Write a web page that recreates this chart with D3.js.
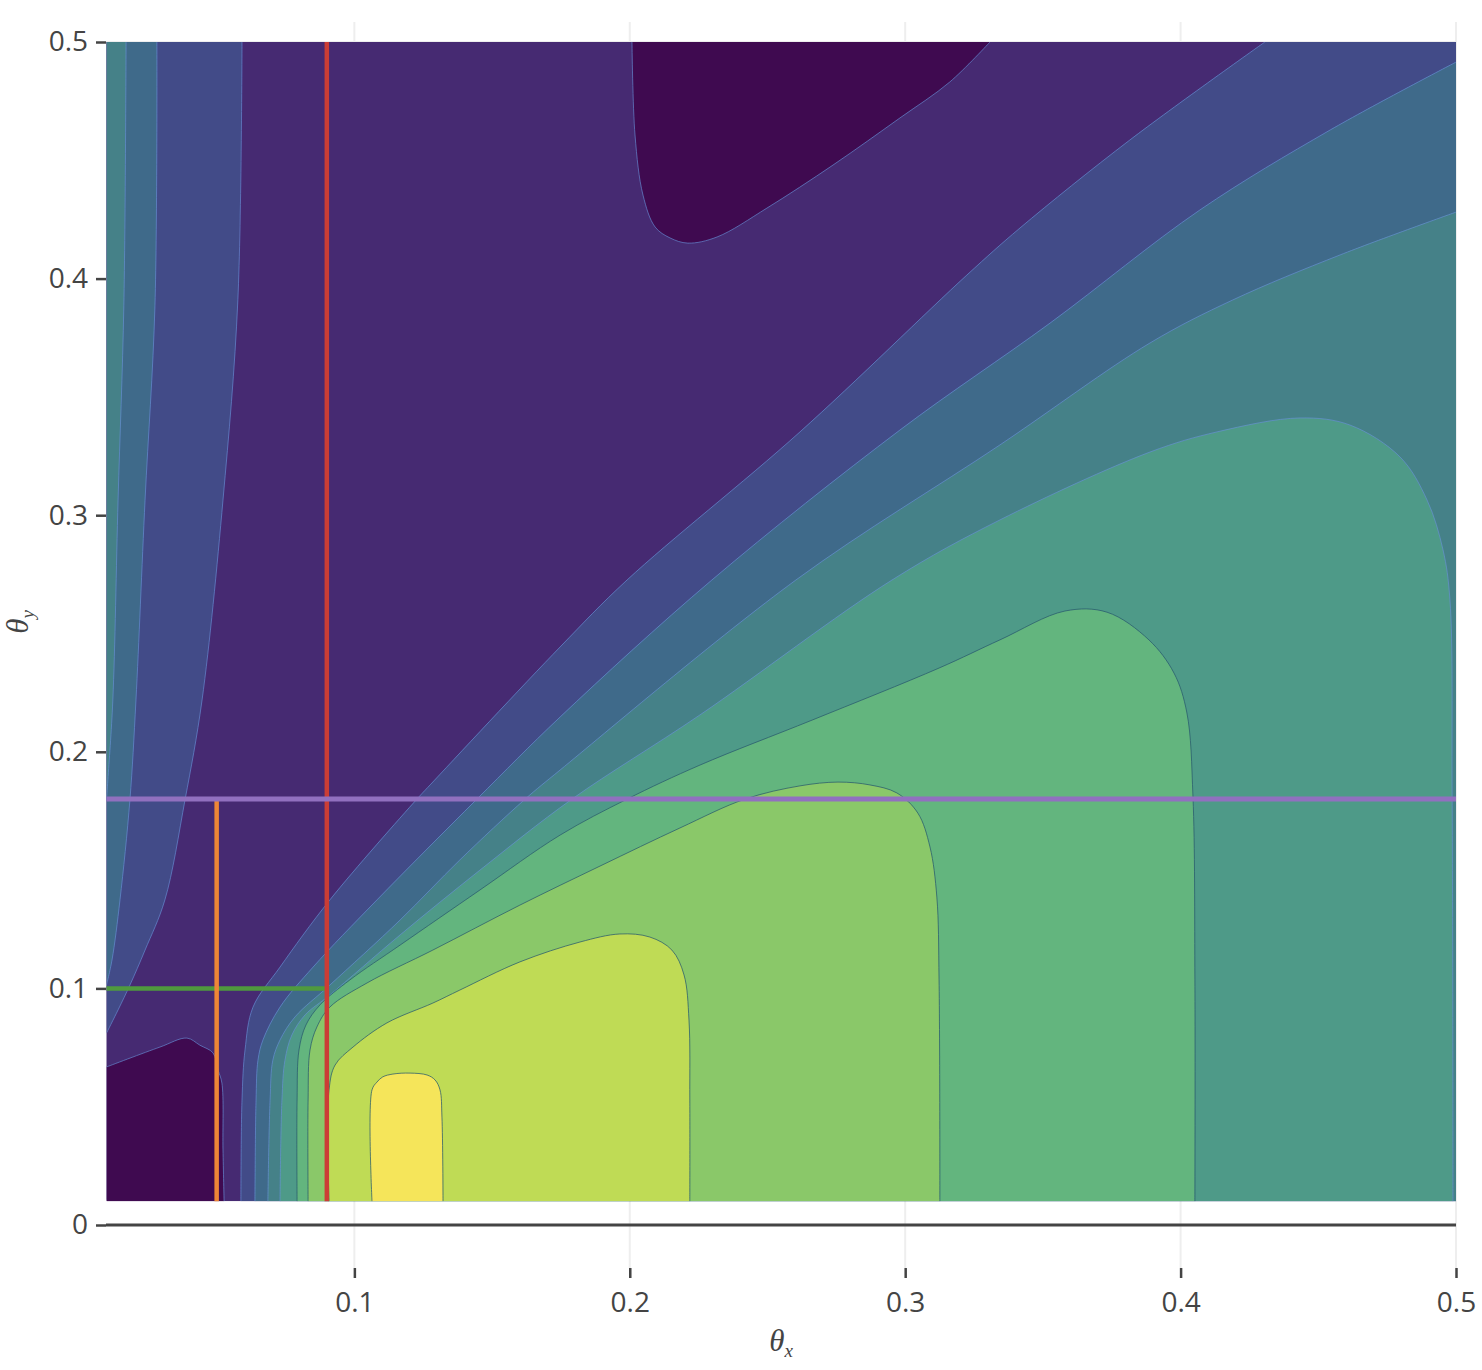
<!DOCTYPE html>
<html>
<head>
<meta charset="utf-8">
<script src="https://cdn.jsdelivr.net/npm/d3@7"></script>
<style>
  body { margin: 0; background: #fff; }
  text { font-family: "Open Sans", sans-serif; }
</style>
</head>
<body>
<div id="chart"></div>
<script>
// filled contour levels, lowest (dark) to highest (yellow)
var levelColors = ["#3f0a50", "#462a72", "#424b88", "#3f6a8a", "#458188",
                   "#4e9a88", "#63b57e", "#8ac869", "#bfdb55", "#f5e55a"];

var xTicks = [0.1, 0.2, 0.3, 0.4, 0.5];
var yTicks = [0, 0.1, 0.2, 0.3, 0.4, 0.5];

// contour boundaries, [theta_x, theta_y]
// the two low (darkest) pockets
var lowBlob = [[0.01, 0.0668], [0.0294, 0.0752], [0.0392, 0.0790], [0.0439, 0.0760], [0.0487, 0.0727],
  [0.0505, 0.0655], [0.0519, 0.0600], [0.0523, 0.0317], [0.0527, 0.01]];
var topBlob = [[0.2008, 0.5], [0.2019, 0.4607], [0.2048, 0.4353], [0.2092, 0.4218], [0.2146, 0.4172],
  [0.2211, 0.4150], [0.2317, 0.4176], [0.2498, 0.4298], [0.2738, 0.4480], [0.2981, 0.4679],
  [0.3162, 0.4831], [0.3308, 0.5]];

// left strip, top edge down to left edge
var leftL2 = [[0.0592, 0.5], [0.0577, 0.3910], [0.0523, 0.3064], [0.0447, 0.2219], [0.0385, 0.1796],
  [0.0312, 0.1374], [0.0240, 0.1162], [0.0185, 0.1014], [0.0142, 0.0909], [0.01, 0.0811]];
var leftL3 = [[0.0283, 0.5], [0.0276, 0.3888], [0.0240, 0.3064], [0.0207, 0.2219], [0.0185, 0.1796],
  [0.0149, 0.1374], [0.0120, 0.1120], [0.01, 0.1014]];
var leftL4 = [[0.0171, 0.5], [0.0163, 0.3888], [0.0142, 0.3064], [0.0123, 0.2219], [0.0105, 0.1881],
  [0.01, 0.1796]];

// main fan, from the bottom edge up and to the right
var edgeL2 = [[0.0588, 0.01], [0.0592, 0.0528], [0.0603, 0.0740], [0.0632, 0.0921], [0.0730, 0.1090],
  [0.0911, 0.1374], [0.1227, 0.1800], [0.1275, 0.1860], [0.1747, 0.2443], [0.1990, 0.2726],
  [0.2618, 0.3352], [0.3224, 0.4015], [0.3417, 0.4214], [0.3816, 0.4586], [0.4306, 0.5]];
var edgeL3 = [[0.0639, 0.01], [0.0643, 0.0528], [0.0650, 0.0697], [0.0668, 0.0782], [0.0730, 0.0921],
  [0.0850, 0.1090], [0.1082, 0.1374], [0.1445, 0.1800], [0.1747, 0.2147], [0.2298, 0.2726],
  [0.2981, 0.3360], [0.3526, 0.3812], [0.4070, 0.4290], [0.4543, 0.4628], [0.5, 0.4915]];
var edgeL4 = [[0.0686, 0.01], [0.0694, 0.0528], [0.0704, 0.0697], [0.0730, 0.0782], [0.0784, 0.0879],
  [0.0911, 0.1014], [0.1166, 0.1289], [0.1383, 0.1543], [0.1620, 0.1800], [0.1747, 0.1923],
  [0.2603, 0.2726], [0.3344, 0.3297], [0.3889, 0.3728], [0.4190, 0.3910], [0.4579, 0.4100], [0.5, 0.4281]];
var edgeL5 = [[0.0730, 0.01], [0.0737, 0.0528], [0.0748, 0.0697], [0.0773, 0.0803], [0.0821, 0.0888],
  [0.0911, 0.0972], [0.1166, 0.1226], [0.1456, 0.1500], [0.1790, 0.1800], [0.2255, 0.2156],
  [0.2952, 0.2726], [0.3344, 0.2980], [0.3889, 0.3267], [0.4132, 0.3352], [0.4434, 0.3411],
  [0.4615, 0.3381], [0.4797, 0.3246], [0.4895, 0.3064], [0.4953, 0.2853], [0.4978, 0.2642],
  [0.4986, 0.1796], [0.4989, 0.01]];
var edgeL6 = [[0.0792, 0.01], [0.0792, 0.0528], [0.0799, 0.0740], [0.0824, 0.0845], [0.0875, 0.0930],
  [0.0984, 0.1036], [0.1166, 0.1183], [0.1456, 0.1416], [0.1747, 0.1648], [0.1990, 0.1800],
  [0.2255, 0.1944], [0.2662, 0.2134], [0.3123, 0.2354], [0.3344, 0.2473], [0.3580, 0.2595],
  [0.3733, 0.2590], [0.3885, 0.2473], [0.3976, 0.2333], [0.4023, 0.2164], [0.4045, 0.1809],
  [0.4052, 0.1036], [0.4052, 0.01]];
var edgeL7 = [[0.0832, 0.01], [0.0832, 0.0528], [0.0839, 0.0740], [0.0864, 0.0837], [0.0911, 0.0921],
  [0.1046, 0.1023], [0.1285, 0.1162], [0.1601, 0.1352], [0.1892, 0.1517], [0.2182, 0.1678],
  [0.2418, 0.1800], [0.2618, 0.1856], [0.2756, 0.1872], [0.2872, 0.1860], [0.2970, 0.1826],
  [0.3046, 0.1741], [0.3090, 0.1598], [0.3115, 0.1386], [0.3123, 0.1036], [0.3126, 0.01]];
var edgeL8 = [[0.0908, 0.01], [0.0908, 0.0571], [0.0930, 0.0676], [0.0995, 0.0752], [0.1118, 0.0854],
  [0.1285, 0.0938], [0.1383, 0.0993], [0.1601, 0.1112], [0.1819, 0.1196], [0.1964, 0.1230],
  [0.2073, 0.1217], [0.2153, 0.1162], [0.2197, 0.1057], [0.2215, 0.0866], [0.2218, 0.0528], [0.2218, 0.01]];
var edgeL9 = [[0.1064, 0.01], [0.1064, 0.0571], [0.1082, 0.0604], [0.1103, 0.0626], [0.1140, 0.0638],
  [0.1202, 0.0642], [0.1264, 0.0634], [0.1293, 0.0613], [0.1311, 0.0571], [0.1318, 0.0456], [0.1322, 0.01]];

// overlay lines
var purpleLine = [[0.01, 0.18], [0.5, 0.18]];
var redLine = [[0.09, 0.01], [0.09, 0.5]];
var orangeLine = [[0.05, 0.01], [0.05, 0.18]];
var greenLine = [[0.01, 0.1], [0.09, 0.1]];

var W = 1482, H = 1370;
var plot = {left: 106, right: 1456, top: 22, bottom: 1268};

var x = d3.scaleLinear().domain([0.01, 0.5]).range([106.5, 1456]);
var y = d3.scaleLinear().domain([0, 0.5]).range([1225, 42]);

var svg = d3.select("#chart").append("svg")
    .attr("width", W)
    .attr("height", H);

// grid
svg.append("g").selectAll("line").data(xTicks).enter().append("line")
    .attr("x1", d => x(d)).attr("x2", d => x(d))
    .attr("y1", plot.top).attr("y2", plot.bottom)
    .style("stroke", "#eee").style("stroke-width", 2);
svg.append("g").selectAll("line").data(yTicks.filter(d => d !== 0)).enter().append("line")
    .attr("x1", plot.left).attr("x2", plot.right)
    .attr("y1", d => y(d)).attr("y2", d => y(d))
    .style("stroke", "#eee").style("stroke-width", 2);

svg.append("clipPath").attr("id", "dataClip")
  .append("rect")
    .attr("x", x(0.01)).attr("y", y(0.5))
    .attr("width", x(0.5) - x(0.01)).attr("height", y(0.01) - y(0.5));

var contour = svg.append("g").attr("clip-path", "url(#dataClip)");

var curve = d3.line()
    .x(d => x(d[0]))
    .y(d => y(d[1]))
    .curve(d3.curveCatmullRom.alpha(0.5));

// smooth boundary + straight edges along the frame
var region = (pts, corners) => {
  var p = curve(pts);
  (corners || []).forEach(c => { p += "L" + x(c[0]) + "," + y(c[1]); });
  return p + "Z";
};

var fills = [
  {d: region([[0.01, 0.01], [0.01, 0.5], [0.5, 0.5], [0.5, 0.01]]), level: 1},
  {d: region(lowBlob, [[0.01, 0.01]]), level: 0},
  {d: region(topBlob), level: 0},
  {d: region(leftL2, [[0.01, 0.5]]), level: 2},
  {d: region(edgeL2, [[0.5, 0.5], [0.5, 0.01]]), level: 2},
  {d: region(leftL3, [[0.01, 0.5]]), level: 3},
  {d: region(edgeL3, [[0.5, 0.01]]), level: 3},
  {d: region(leftL4, [[0.01, 0.5]]), level: 4},
  {d: region(edgeL4, [[0.5, 0.01]]), level: 4},
  {d: region(edgeL5), level: 5},
  {d: region(edgeL6), level: 6},
  {d: region(edgeL7), level: 7},
  {d: region(edgeL8), level: 8},
  {d: region(edgeL9), level: 9}
];

contour.selectAll("path.fill").data(fills).enter().append("path")
    .attr("class", "fill")
    .attr("d", d => d.d)
    .style("fill", d => levelColors[d.level])
    .style("stroke", "none");

var borders = [
  {pts: lowBlob, level: 1}, {pts: topBlob, level: 1},
  {pts: leftL2, level: 2}, {pts: edgeL2, level: 2},
  {pts: leftL3, level: 3}, {pts: edgeL3, level: 3},
  {pts: leftL4, level: 4}, {pts: edgeL4, level: 4},
  {pts: edgeL5, level: 5}, {pts: edgeL6, level: 6},
  {pts: edgeL7, level: 7}, {pts: edgeL8, level: 8}, {pts: edgeL9, level: 9}
];

contour.selectAll("path.edge").data(borders).enter().append("path")
    .attr("class", "edge")
    .attr("d", d => curve(d.pts))
    .style("fill", "none")
    .style("stroke", d => d.level <= 5 ? "rgba(105,145,215,0.65)" : "rgba(40,90,110,0.75)")
    .style("stroke-width", 1);

// guide lines
var seg = d3.line().x(d => x(d[0])).y(d => y(d[1]));
[[greenLine, "#4f9a3e", 4.5], [orangeLine, "#ee8636", 4.5],
 [redLine, "#cb3d35", 4.5], [purpleLine, "#9170bf", 5]].forEach(l => {
  svg.append("path")
      .attr("d", seg(l[0]))
      .style("fill", "none")
      .style("stroke", l[1])
      .style("stroke-width", l[2]);
});

// zero line
svg.append("line")
    .attr("x1", plot.left).attr("x2", plot.right)
    .attr("y1", y(0)).attr("y2", y(0))
    .style("stroke", "#444").style("stroke-width", 3);

// axes
var xAxis = svg.append("g")
    .attr("transform", "translate(0," + plot.bottom + ")")
    .call(d3.axisBottom(x).tickValues(xTicks).tickSize(10).tickPadding(14).tickFormat(d3.format(".1f")));
var yAxis = svg.append("g")
    .attr("transform", "translate(" + plot.left + ",0)")
    .call(d3.axisLeft(y).tickValues(yTicks).tickSize(10).tickPadding(8).tickFormat(d => d === 0 ? "0" : d3.format(".1f")(d)));

[xAxis, yAxis].forEach(a => {
  a.select(".domain").remove();
  a.selectAll(".tick line").style("stroke", "#444").style("stroke-width", 2.5);
  a.selectAll(".tick text")
      .style("font-family", "'Open Sans', sans-serif")
      .style("font-size", "28px")
      .style("fill", "#444");
});

// axis titles
var xt = svg.append("text")
    .attr("x", (plot.left + plot.right) / 2)
    .attr("y", 1351)
    .attr("text-anchor", "middle")
    .style("font-family", "'Liberation Serif', serif")
    .style("font-style", "italic")
    .style("font-size", "31px")
    .style("fill", "#444");
xt.append("tspan").text("θ");
xt.append("tspan").attr("dy", 6).style("font-size", "19px").text("x");

var yt = svg.append("text")
    .attr("transform", "translate(28,622) rotate(-90)")
    .attr("text-anchor", "middle")
    .style("font-family", "'Liberation Serif', serif")
    .style("font-style", "italic")
    .style("font-size", "31px")
    .style("fill", "#444");
yt.append("tspan").text("θ");
yt.append("tspan").attr("dy", 6).style("font-size", "19px").text("y");
</script>
</body>
</html>
